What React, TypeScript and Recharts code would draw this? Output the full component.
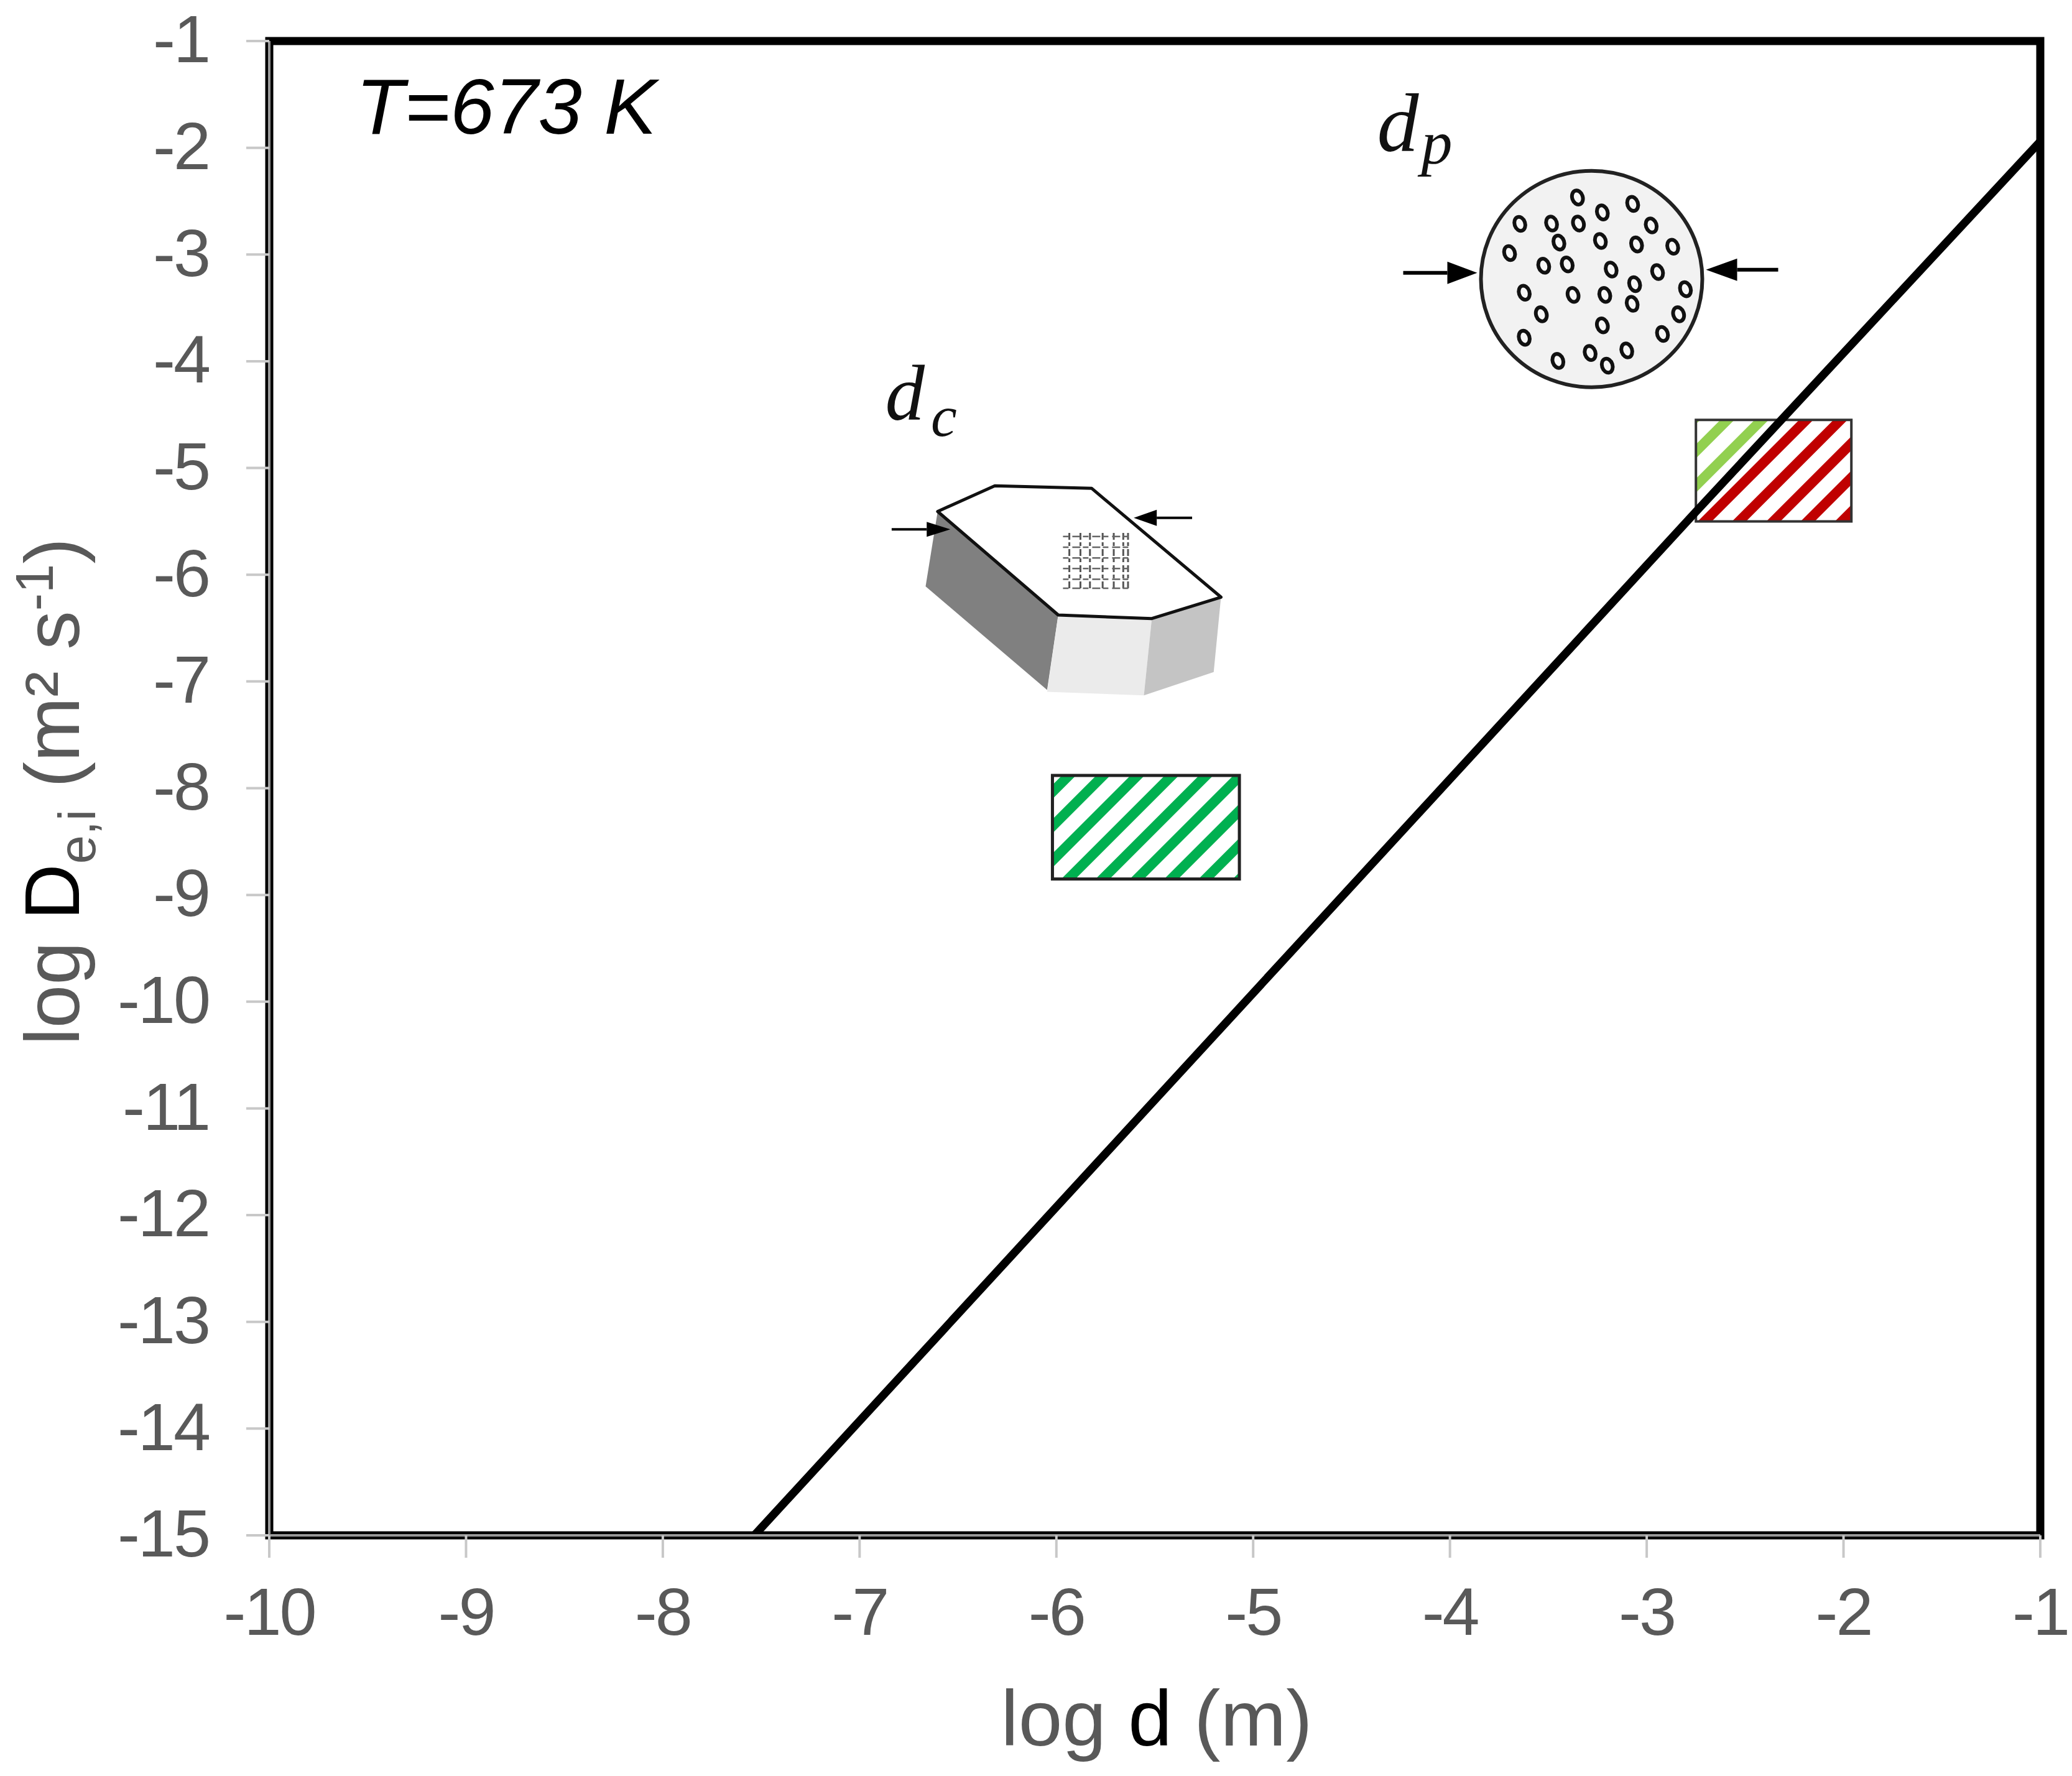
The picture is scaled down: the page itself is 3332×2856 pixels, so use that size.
import React from "react";
import {
  ComposedChart, XAxis, YAxis, Line, Area, ReferenceArea, ReferenceDot, Label,
} from "recharts";

const xTicks = [-10, -9, -8, -7, -6, -5, -4, -3, -2, -1];
const yTicks = [-1, -2, -3, -4, -5, -6, -7, -8, -9, -10, -11, -12, -13, -14, -15];
const criticalLine = [
  { x: -7.535, y: -15 },
  { x: -2.75, y: -5.41 },
  { x: -1, y: -1.94 },
];
const greenWindow = { x1: -6.02, x2: -5.07, y1: -8.85, y2: -7.88 };
const pelletWindow = { x1: -2.75, x2: -1.96, y1: -5.5, y2: -4.55 };
const pelletAbove = [
  { x: -2.75, band: [-5.41, -4.55] },
  { x: -2.31, band: [-4.55, -4.55] },
];
const pelletBelow = [
  { x: -2.75, band: [-5.5, -5.41] },
  { x: -2.31, band: [-5.5, -4.55] },
  { x: -1.96, band: [-5.5, -4.55] },
];

const SANS = "'Liberation Sans', Arial, sans-serif";
const SERIF = "'Liberation Serif', 'Times New Roman', serif";
const GREY = "#595959";

const pores = [
  [556, 425], [607, 472], [669, 445], [438, 508], [503, 507], [558, 507], [707, 513], [518, 567],
  [603, 562], [677, 573], [751, 580], [417, 600], [487, 640], [535, 636], [625, 652], [720, 660],
  [673, 698], [777, 714], [447, 725], [547, 732], [612, 732], [668, 760], [482, 793], [763, 793],
  [607, 828], [730, 855], [447, 867], [657, 907], [582, 915], [516, 940], [617, 955],
];

function Arrow({ x1, x2, y, w, head, half }: any) {
  const dir = x2 > x1 ? 1 : -1;
  const base = x2 - dir * head;
  return (
    <g>
      <line x1={x1} x2={base} y1={y} y2={y} stroke="#000" strokeWidth={w} />
      <polygon points={`${x2},${y} ${base},${y - half} ${base},${y + half}`} fill="#000" />
    </g>
  );
}

function Pellet({ cx, cy }: any) {
  return (
    <g transform={`translate(${cx},${cy})`}>
      <ellipse rx={178} ry={174} fill="#f2f2f2" stroke="#222" strokeWidth={6} />
      {pores.map(([zx, zy], i) => {
        const px = (zx - 585) / 1.273;
        const py = (zy - 682) / 1.96;
        return (
          <ellipse key={i} cx={px} cy={py} rx={8.5} ry={11.5} fill="#f7f7f7" stroke="#111" strokeWidth={6}
            transform={`rotate(-18 ${px} ${py})`} />
        );
      })}
      <Arrow x1={-303} x2={-184} y={-10} w={6} head={48} half={18} />
      <Arrow x1={300} x2={184} y={-15} w={6} head={50} half={18} />
    </g>
  );
}

function Crystal({ cx, cy }: any) {
  const z = (x: number, y: number) => `${(x - 740) / 1.96},${(y - 700) / 1.742}`;
  const pts = (a: number[][]) => a.map(([x, y]) => z(x, y)).join(" ");
  const zx = (x: number) => (x - 740) / 1.96;
  const zy = (y: number) => (y - 700) / 1.742;
  const vs = [725, 760, 790, 830, 865, 895, 910];
  const hs = [545, 575, 605, 635, 665, 690];
  return (
    <g transform={`translate(${cx},${cy})`}>
      <polygon points={pts([[310, 475], [690, 765], [655, 975], [272, 685]])} fill="#808080" />
      <polygon points={pts([[690, 765], [985, 775], [960, 990], [655, 980]])} fill="#ebebeb" />
      <polygon points={pts([[985, 775], [1203, 715], [1180, 925], [960, 990]])} fill="#c4c4c4" />
      <polygon points={pts([[310, 475], [490, 403], [795, 410], [1203, 715], [985, 775], [690, 765]])}
        fill="#ffffff" stroke="#111" strokeWidth={5} strokeLinejoin="round" />
      {vs.map((x) => (
        <line key={x} x1={zx(x)} x2={zx(x)} y1={zy(535)} y2={zy(695)} stroke="#555" strokeWidth={3} strokeDasharray="11 4 6 5" />
      ))}
      {hs.map((y) => (
        <line key={y} x1={zx(705)} x2={zx(915)} y1={zy(y)} y2={zy(y)} stroke="#666" strokeWidth={2.5} strokeDasharray="9 6 13 4" />
      ))}
      <Arrow x1={zx(165)} x2={zx(350)} y={zy(525)} w={4} head={38} half={12} />
      <Arrow x1={zx(1112)} x2={zx(928)} y={zy(493)} w={4} head={37} half={13} />
    </g>
  );
}

const TempLabel = ({ cx, cy }: any) => (
  <text x={cx} y={cy} fontFamily={SANS} fontStyle="italic" fontSize={127} fill="#000">T=673 K</text>
);
const DpLabel = ({ cx, cy }: any) => (
  <text x={cx} y={cy} fontFamily={SERIF} fontStyle="italic" fontSize={134} fill="#111">
    d<tspan dy={20} dx={4} fontSize={100}>p</tspan>
  </text>
);
const DcLabel = ({ cx, cy }: any) => (
  <text x={cx} y={cy} fontFamily={SERIF} fontStyle="italic" fontSize={127} fill="#111">
    d<tspan dy={26} dx={10} fontSize={94}>c</tspan>
  </text>
);

const XTitle = () => (
  <text x={1860} y={2807} textAnchor="middle" fontFamily={SANS} fontSize={127} fill={GREY}>
    log <tspan fill="#000">d</tspan> (m)
  </text>
);
const YTitle = () => (
  <text x={127} y={1273} transform="rotate(-90 127 1273)" textAnchor="middle" fontFamily={SANS} fontSize={125} fill={GREY}>
    log <tspan fill="#000">D</tspan>
    <tspan fontSize={83} dy={26}>e,i</tspan>
    <tspan dy={-26}> (m² s</tspan>
    <tspan fontSize={85} dy={-42}>-1</tspan>
    <tspan dy={42}>)</tspan>
  </text>
);

const xTickStyle = { fill: GREY, fontSize: 108, fontFamily: SANS, letterSpacing: -3 };
const yTickStyle = { fill: GREY, fontSize: 108, fontFamily: SANS, letterSpacing: -3, dy: -4 };

function Hatch({ id, color, ax, ay }: any) {
  return (
    <pattern id={id} patternUnits="userSpaceOnUse" width="39" height="39" patternTransform={`translate(${ax} ${ay}) rotate(-45)`}>
      <rect width="39" height="8" fill={color} />
      <rect y="31" width="39" height="8" fill={color} />
    </pattern>
  );
}

export default function App() {
  return (
    <div style={{ position: "absolute", left: 0, top: 0, width: 3332, height: 2856, background: "#fff" }}>
      <ComposedChart width={3332} height={2856} margin={{ top: 66, right: 51, bottom: 0, left: 0 }}>
        <defs>
          <Hatch id="hatchGreen" color="#00b050" ax={1693} ay={1273} />
          <Hatch id="hatchLime" color="#92d050" ax={2726} ay={727} />
          <Hatch id="hatchRed" color="#c00000" ax={2795} ay={840} />
        </defs>
        <ReferenceArea x1={-10} x2={-1} y1={-15} y2={-1} fill="none" stroke="#000" strokeWidth={13} ifOverflow="visible" />
        <XAxis type="number" dataKey="x" domain={[-10, -1]} ticks={xTicks} interval={0} height={387}
          tick={xTickStyle} tickSize={36} tickMargin={47}
          tickLine={{ stroke: "#c8c8c8", strokeWidth: 4 }} axisLine={{ stroke: "#999999", strokeWidth: 4 }}>
          <Label content={XTitle} />
        </XAxis>
        <YAxis type="number" domain={[-15, -1]} ticks={yTicks} interval={0} width={433}
          tick={yTickStyle} tickSize={37} tickMargin={60}
          tickLine={{ stroke: "#c8c8c8", strokeWidth: 4 }} axisLine={{ stroke: "#999999", strokeWidth: 4 }}>
          <Label content={YTitle} />
        </YAxis>
        <ReferenceArea {...greenWindow} fill="url(#hatchGreen)" fillOpacity={1} stroke="#222" strokeWidth={5} ifOverflow="visible" />
        <Area data={pelletAbove} dataKey="band" type="linear" fill="url(#hatchLime)" fillOpacity={1} stroke="none" dot={false} activeDot={false} legendType="none" isAnimationActive={false} />
        <Area data={pelletBelow} dataKey="band" type="linear" fill="url(#hatchRed)" fillOpacity={1} stroke="none" dot={false} activeDot={false} legendType="none" isAnimationActive={false} />
        <ReferenceArea {...pelletWindow} fill="none" stroke="#333" strokeWidth={4} ifOverflow="visible" />
        <Line data={criticalLine} dataKey="y" type="linear" stroke="#000" strokeWidth={13} dot={false} activeDot={false} isAnimationActive={false} />
        <ReferenceDot x={-3.28} y={-3.23} ifOverflow="visible" shape={Pellet} />
        <ReferenceDot x={-5.91} y={-6.16} ifOverflow="visible" shape={Crystal} />
        <ReferenceDot x={-9.56} y={-1.87} ifOverflow="visible" shape={TempLabel} />
        <ReferenceDot x={-4.37} y={-2.03} ifOverflow="visible" shape={DpLabel} />
        <ReferenceDot x={-6.87} y={-4.55} ifOverflow="visible" shape={DcLabel} />
      </ComposedChart>
    </div>
  );
}
